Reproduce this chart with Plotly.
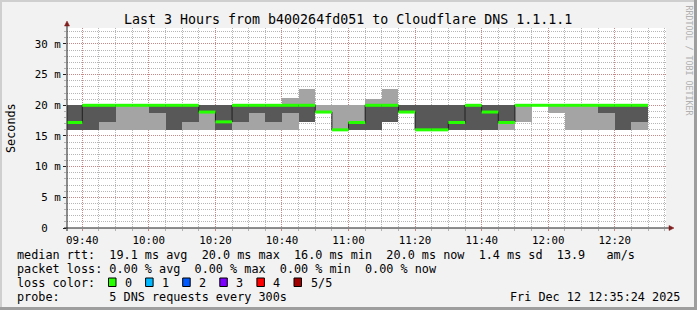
import plotly.graph_objects as go

# ---------------- data ----------------
DAY = "2025-12-12 "
slots = ["09:35", "09:40", "09:45", "09:50", "09:55", "10:00", "10:05", "10:10",
         "10:15", "10:20", "10:25", "10:30", "10:35", "10:40", "10:45", "10:50",
         "10:55", "11:00", "11:05", "11:10", "11:15", "11:20", "11:25", "11:30",
         "11:35", "11:40", "11:45", "11:50", "11:55", "12:00", "12:05", "12:10",
         "12:15", "12:20", "12:25"]
end_slot = "12:30"

# five sorted DNS response times per 5-minute step (ms)
ping1 = [16, 16, 16, 16, 16, 16, 16, 16, 16, 16, 16, 16, 16, 16, 17.2, 18.9, 16, 16,
         16, 17.2, 18.9, 16, 16, 16, 16, 16, 16, 17.2, 20, 18.8, 16, 16, 16, 16, 16]
ping2 = [16, 16, 17.2, 20, 20, 18.8, 16, 17.2, 18.9, 16, 17.2, 18.8, 17.2, 18.8, 17.2,
         18.9, 16, 16, 16, 17.2, 18.9, 16, 16, 16, 16, 16, 17.2, 20, 20, 20, 20, 20,
         18.8, 16, 17.2]
median = [17.2, 20, 20, 20, 20, 20, 20, 20, 18.9, 17.3, 20, 20, 20, 20, 20, 18.9, 16,
          17.2, 20, 20, 18.9, 16, 16, 17.2, 20, 18.9, 17.2, 20, 20, 20, 20, 20, 20, 20, 20]
ping4 = [20, 20, 20, 20, 20, 20, 20, 20, 20, 20, 20, 20, 20, 20, 20, 18.9, 16, 17.2,
         20, 20, 20, 20, 20, 20, 20, 20, 20, 20, 20, 20, 20, 20, 20, 20, 20]
ping5 = [20, 20, 20, 20, 20, 20, 20, 20, 20, 20, 20, 20, 20, 21.2, 22.7, 20, 20, 20,
         21.1, 22.7, 20, 20, 20, 20, 20, 20, 20, 20, 20, 20, 20, 20, 20, 20, 20]
loss = [0] * 35

loss_labels = ["0", "1", "2", "3", "4", "5/5"]
loss_colors = ["#26ff00", "#00b8ff", "#0059ff", "#7e00ff", "#ff0000", "#a00000"]

y_ticks = [0, 5, 10, 15, 20, 25, 30]
y_ticktext = ["0\u00a0\u00a0", "5\u00a0m", "10\u00a0m", "15\u00a0m", "20\u00a0m", "25\u00a0m", "30\u00a0m"]
x_ticks = ["09:40", "10:00", "10:20", "10:40", "11:00", "11:20", "11:40", "12:00", "12:20"]

title = "Last 3 Hours from b400264fd051 to Cloudflare DNS 1.1.1.1"
row1 = "median rtt:  19.1 ms avg  20.0 ms max  16.0 ms min  20.0 ms now  1.4 ms sd  13.9   am/s"
row2 = "packet loss: 0.00 % avg  0.00 % max  0.00 % min  0.00 % now"
row3 = "loss color:"
row4 = "probe:       5 DNS requests every 300s"
stamp = "Fri Dec 12 12:35:24 2025"

# ---------------- geometry ----------------
W, H = 697, 310
L, R, T, B = 67, 31, 28, 82
PW, PH = W - L - R, H - T - B
YMAX = 32.6
MONO = "DejaVu Sans Mono"

def xp(px):
    return (px - L) / PW

def yp(py):
    return (H - B - py) / PH

t = [DAY + s for s in slots]
t_end = DAY + end_slot
t_all = t + [t_end]
x0, x1 = DAY + "09:35:24", DAY + "12:35:24"

DOT = "1px,1px"
GRID = "rgba(143,143,143,0.65)"
MGRID = "rgba(222,79,79,0.45)"

fig = go.Figure()

# smoke: outer band (ping1..ping5) and inner band (ping2..ping4)
fig.add_trace(go.Bar(x=t, base=ping1, y=[b - a for a, b in zip(ping1, ping5)],
                     width=300000, offset=0, marker=dict(color="#a4a4a4", line=dict(width=0)),
                     hoverinfo="skip"))
fig.add_trace(go.Bar(x=t, base=ping2, y=[b - a for a, b in zip(ping2, ping4)],
                     width=300000, offset=0, marker=dict(color="#585858", line=dict(width=0)),
                     hoverinfo="skip"))

# median: thin dark staircase, then loss-coloured horizontal segments
fig.add_trace(go.Scatter(x=t_all, y=median + [median[-1]], mode="lines",
                         line=dict(color="#202020", width=1, shape="hv"), hoverinfo="skip"))
for lv, col in enumerate(loss_colors):
    sx, sy = [], []
    for i in range(len(t)):
        if loss[i] == lv:
            sx += [t_all[i], t_all[i + 1], None]
            sy += [median[i], median[i], None]
    if sx:
        fig.add_trace(go.Scatter(x=sx, y=sy, mode="lines",
                                 line=dict(color=col, width=3), hoverinfo="skip"))

shapes = []
# frame shading
shapes.append(dict(type="rect", xref="paper", yref="paper", x0=xp(0), x1=xp(W), y0=yp(0), y1=yp(2),
                   fillcolor="#cfcfcf", line=dict(width=0), layer="above"))
shapes.append(dict(type="rect", xref="paper", yref="paper", x0=xp(0), x1=xp(2), y0=yp(0), y1=yp(H),
                   fillcolor="#cfcfcf", line=dict(width=0), layer="above"))
shapes.append(dict(type="rect", xref="paper", yref="paper", x0=xp(0), x1=xp(W), y0=yp(H - 3), y1=yp(H),
                   fillcolor="#9e9e9e", line=dict(width=0), layer="above"))
shapes.append(dict(type="rect", xref="paper", yref="paper", x0=xp(W - 3), x1=xp(W), y0=yp(0), y1=yp(H),
                   fillcolor="#9e9e9e", line=dict(width=0), layer="above"))
# axes + arrows
AX = "#1f1f1f"
ARROW = "#801f1f"
shapes.append(dict(type="line", xref="paper", yref="paper", x0=xp(L), x1=xp(L), y0=yp(231), y1=yp(24),
                   line=dict(color=AX, width=1), layer="above"))
shapes.append(dict(type="line", xref="paper", yref="paper", x0=xp(64), x1=xp(670), y0=yp(228), y1=yp(228),
                   line=dict(color=AX, width=1), layer="above"))
shapes.append(dict(type="path", xref="paper", yref="paper",
                   path=f"M {xp(64.5)},{yp(26)} L {xp(69.5)},{yp(26)} L {xp(67)},{yp(21)} Z",
                   fillcolor=ARROW, line=dict(color=ARROW, width=0.5), layer="above"))
shapes.append(dict(type="path", xref="paper", yref="paper",
                   path=f"M {xp(669)},{yp(225.5)} L {xp(669)},{yp(230.5)} L {xp(674)},{yp(228)} Z",
                   fillcolor=ARROW, line=dict(color=ARROW, width=0.5), layer="above"))

annotations = []
def text(s, x, y, size=11.8, xanchor="left", color="#000000", angle=0):
    annotations.append(dict(text=s.replace(" ", "\u00a0"), x=xp(x), y=yp(y), xref="paper", yref="paper",
                            xanchor=xanchor, yanchor="middle", showarrow=False, textangle=angle,
                            font=dict(family=MONO, size=size, color=color)))

text(title, 347.5, 19.5, size=13.3, xanchor="center")
text(row1, 15, 254.5)
text(row2, 15, 268.5)
text(row3, 15, 282.5)
text(row4, 15, 296.5)
text(stamp, 682, 296.5, xanchor="right")
text("Seconds", 11, 128, xanchor="center", angle=-90)
text("RRDTOOL / TOBI OETIKER", 688.5, 60, size=8.3, xanchor="center", color="#b0b0b0", angle=90)

for k, (lab, col) in enumerate(zip(loss_labels, loss_colors)):
    bx = 108.5 + 37.1 * k
    shapes.append(dict(type="rect", xref="paper", yref="paper", x0=xp(bx), x1=xp(bx + 7.5),
                       y0=yp(286.5), y1=yp(278), fillcolor=col, line=dict(color="#000000", width=1),
                       layer="above"))
    text(lab, bx + 14.5, 282.5)

fig.update_layout(
    width=W, height=H, margin=dict(l=L, r=R, t=T, b=B, pad=0),
    paper_bgcolor="#f2f2f2", plot_bgcolor="#ffffff",
    barmode="overlay", bargap=0, showlegend=False,
    shapes=shapes, annotations=annotations,
    font=dict(family=MONO, size=10.8, color="#000000"),
)
fig.update_xaxes(type="date", range=[x0, x1], zeroline=False, showline=False,
                 tickvals=[DAY + s for s in x_ticks], ticktext=x_ticks,
                 showgrid=True, gridcolor=MGRID, griddash=DOT, gridwidth=1,
                 ticks="outside", ticklen=2, tickcolor=MGRID,
                 minor=dict(tickmode="linear", tick0=DAY + "09:35", dtick=300000,
                            showgrid=True, gridcolor=GRID, griddash=DOT, gridwidth=1,
                            ticks="outside", ticklen=2, tickcolor=GRID),
                 tickfont=dict(family=MONO, size=10.8, color="#000000"), fixedrange=True)
fig.update_yaxes(range=[0, YMAX], zeroline=False, showline=False,
                 tickvals=y_ticks, ticktext=y_ticktext,
                 showgrid=True, gridcolor=MGRID, griddash=DOT, gridwidth=1,
                 ticks="outside", ticklen=3, tickcolor=AX,
                 minor=dict(tickmode="linear", tick0=0, dtick=1,
                            showgrid=True, gridcolor=GRID, griddash=DOT, gridwidth=1,
                            ticks="outside", ticklen=2, tickcolor=GRID),
                 tickfont=dict(family=MONO, size=10.8, color="#000000"), fixedrange=True)

fig.write_html("out.html", config={"displayModeBar": False})
